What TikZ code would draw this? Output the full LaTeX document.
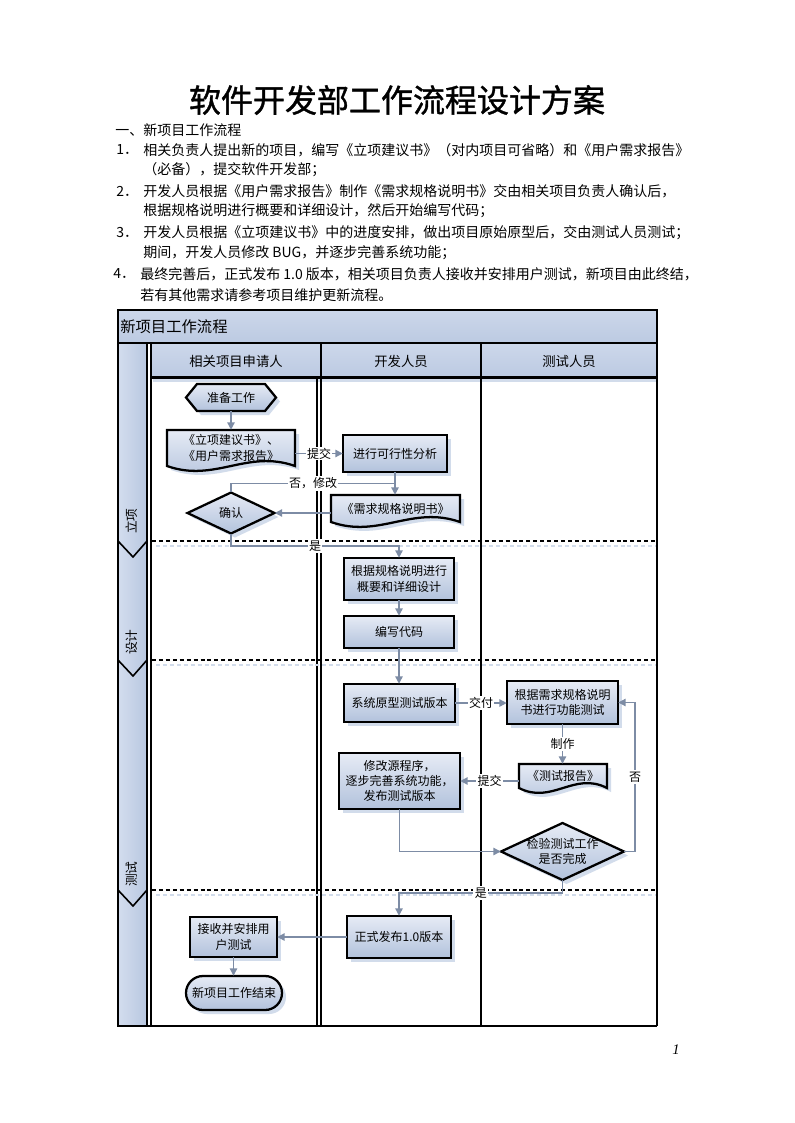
\documentclass[tikz,border=0pt]{standalone}
\usepackage{fontspec}
\setmainfont{Noto Sans CJK SC}
\newfontfamily\titlefont[FakeBold=1.2]{Noto Sans CJK SC}
\newfontfamily\pnfont{Liberation Serif}
\usetikzlibrary{arrows.meta,calc}

\definecolor{nodetop}{HTML}{E6EBF5}
\definecolor{nodebot}{HTML}{B2C2DC}
\definecolor{shadowc}{HTML}{D2DCEB}
\definecolor{connc}{HTML}{7D8CA5}
\definecolor{bandtop}{HTML}{CCD7EA}
\definecolor{bandbot}{HTML}{BCCAE2}
\definecolor{colL}{HTML}{D3DDEE}
\definecolor{colR}{HTML}{B8C7E0}

\tikzset{
 shapefill/.style={top color=nodetop, bottom color=nodebot, draw=black, line width=1.7pt, line join=miter},
 txt/.style={inner sep=0pt, align=center, font=\fontsize{9pt}{11.5pt}\selectfont},
 conn/.style={draw=connc, line width=1pt, -{Triangle[length=5.5pt,width=5.5pt]}},
 plainline/.style={draw=connc, line width=1pt},
 lbl/.style={fill=white, inner sep=1pt, font=\fontsize{9pt}{10pt}\selectfont, text=black},
 bodytext/.style={anchor=west, inner sep=0pt, font=\fontsize{10.5pt}{12pt}\selectfont},
 phasesep/.style={line width=1.6pt, dash pattern=on 3pt off 2.2pt},
 phaseshadow/.style={draw=shadowc, line width=1.2pt, dash pattern=on 3pt off 2.2pt},
 lanehead/.style={top color=bandtop, bottom color=bandbot},
}

\newcommand\corners[4]{\pgfmathsetmacro\xa{#1-#3/2}\pgfmathsetmacro\xb{#1+#3/2}\pgfmathsetmacro\ya{#2-#4/2}\pgfmathsetmacro\yb{#2+#4/2}\pgfmathsetmacro\wq{#3}}

\newcommand\procnode[6]{\corners{#2}{#3}{#4}{#5}%
 \fill[shadowc] (\xa+4,\ya+4) rectangle (\xb+4,\yb+4);
 \path[shapefill] (\xa,\ya) rectangle (\xb,\yb);
 \node[txt,minimum width=#4*0.75pt,minimum height=#5*0.75pt] (#1) at (#2,#3) {#6};}

\newcommand\docnode[6]{\corners{#2}{#3}{#4}{#5}%
 \fill[shadowc] (\xa+4,\ya+4) -- (\xb+4,\ya+4) -- (\xb+4,\yb+4) .. controls (\xa+0.625*\wq+4,\yb-17+4) and (\xa+0.375*\wq+4,\yb+17+4) .. (\xa+4,\yb+4) -- cycle;
 \path[shapefill] (\xa,\ya) -- (\xb,\ya) -- (\xb,\yb) .. controls (\xa+0.625*\wq,\yb-17) and (\xa+0.375*\wq,\yb+17) .. (\xa,\yb) -- cycle;
 \node[txt,minimum width=#4*0.75pt,minimum height=#5*0.75pt] (#1) at (#2,#3) {#6};}

\newcommand\decnode[6]{\corners{#2}{#3}{#4}{#5}%
 \fill[shadowc] (\xa+4,#3+4) -- (#2+4,\ya+4) -- (\xb+4,#3+4) -- (#2+4,\yb+4) -- cycle;
 \path[shapefill] (\xa,#3) -- (#2,\ya) -- (\xb,#3) -- (#2,\yb) -- cycle;
 \node[txt,minimum width=#4*0.75pt,minimum height=#5*0.75pt] (#1) at (#2,#3) {#6};}

\newcommand\prepnode[6]{\corners{#2}{#3}{#4}{#5}%
 \fill[shadowc] (\xa+4,#3+4) -- (\xa+15,\ya+4) -- (\xb-7,\ya+4) -- (\xb+4,#3+4) -- (\xb-7,\yb+4) -- (\xa+15,\yb+4) -- cycle;
 \path[shapefill] (\xa,#3) -- (\xa+11,\ya) -- (\xb-11,\ya) -- (\xb,#3) -- (\xb-11,\yb) -- (\xa+11,\yb) -- cycle;
 \node[txt,minimum width=#4*0.75pt,minimum height=#5*0.75pt] (#1) at (#2,#3) {#6};}

\newcommand\termnode[6]{\corners{#2}{#3}{#4}{#5}%
 \fill[shadowc, rounded corners=#5*0.375pt] (\xa+4,\ya+4) rectangle (\xb+4,\yb+4);
 \path[shapefill, rounded corners=#5*0.375pt] (\xa,\ya) rectangle (\xb,\yb);
 \node[txt,minimum width=#4*0.75pt,minimum height=#5*0.75pt] (#1) at (#2,#3) {#6};}

\begin{document}
\begin{tikzpicture}[x=0.75pt,y=-0.75pt]
\fill[white] (0,0) rectangle (794,1123);
\useasboundingbox (0,0) rectangle (794,1123);

% ---------- page text ----------
\node[inner sep=0pt, font=\titlefont\fontsize{24pt}{28pt}\selectfont] (title) at (397,100) {软件开发部工作流程设计方案};
\node[bodytext] (t0) at (115,130) {一、新项目工作流程};
\node[bodytext] (n1) at (116,150) {1．};
\node[bodytext] (t1a) at (143,150) {相关负责人提出新的项目，编写《立项建议书》（对内项目可省略）和《用户需求报告》};
\node[bodytext] (t1b) at (143,170) {（必备），提交软件开发部；};
\node[bodytext] (n2) at (116,191) {2．};
\node[bodytext] (t2a) at (143,191) {开发人员根据《用户需求报告》制作《需求规格说明书》交由相关项目负责人确认后，};
\node[bodytext] (t2b) at (143,211) {根据规格说明进行概要和详细设计，然后开始编写代码；};
\node[bodytext] (n3) at (116,233) {3．};
\node[bodytext] (t3a) at (143,233) {开发人员根据《立项建议书》中的进度安排，做出项目原始原型后，交由测试人员测试；};
\node[bodytext] (t3b) at (143,253) {期间，开发人员修改 BUG，并逐步完善系统功能；};
\node[bodytext] (n4) at (113,274) {4．};
\node[bodytext] (t4a) at (140,274) {最终完善后，正式发布 1.0 版本，相关项目负责人接收并安排用户测试，新项目由此终结，};
\node[bodytext] (t4b) at (140,295) {若有其他需求请参考项目维护更新流程。};
\node[inner sep=0pt, font=\pnfont\itshape\fontsize{11pt}{12pt}\selectfont] (pnum) at (676,1050) {1};

% ---------- swimlane frame ----------
\path[top color=bandtop, bottom color=bandbot, draw=black, line width=0.8pt] (118,310) rectangle (657,343);
\node[anchor=west, inner sep=0pt, font=\fontsize{11.5pt}{13pt}\selectfont] (band) at (120,327) {新项目工作流程};
\path[left color=colL, right color=colR, draw=black, line width=0.8pt] (118,343) rectangle (147,1026);
\path[lanehead] (151,344) rectangle (320,377);
\path[lanehead] (321,344) rectangle (481,377);
\path[lanehead] (481,344) rectangle (657,377);
\fill[shadowc] (153,379) rectangle (657,382);
\node[inner sep=0pt, font=\fontsize{10pt}{12pt}\selectfont] (h1) at (236,361) {相关项目申请人};
\node[inner sep=0pt, font=\fontsize{10pt}{12pt}\selectfont] (h2) at (401,361) {开发人员};
\node[inner sep=0pt, font=\fontsize{10pt}{12pt}\selectfont] (h3) at (569,361) {测试人员};

% lane lines
\draw[line width=2pt] (151,343) -- (151,1026);
\draw[line width=2pt] (321,343) -- (321,1026);
\draw[line width=1.5pt] (317,377) -- (317,1026);
\draw[line width=2.2pt] (481,343) -- (481,1026);
\draw[line width=2.2pt] (657,343) -- (657,1026);
\draw[line width=2.2pt] (151,377.5) -- (657,377.5);
\draw[line width=2pt] (118,1026) -- (657,1026);

% phase separators
\draw[phaseshadow] (156,546) -- (656,546);
\draw[phaseshadow] (156,665) -- (656,665);
\draw[phaseshadow] (156,895) -- (656,895);
\draw[phasesep] (152,541) -- (656,541);
\draw[phasesep] (152,660) -- (656,660);
\draw[phasesep] (152,890) -- (656,890);
\draw[line width=1.2pt] (118,541) -- (133,557) -- (147,541);
\draw[line width=1.2pt] (118,660) -- (133,676) -- (147,660);
\draw[line width=1.2pt] (118,890) -- (133,906) -- (147,890);
\node[rotate=90, inner sep=0pt, font=\fontsize{9.5pt}{11pt}\selectfont] (p1) at (132,521) {立项};
\node[rotate=90, inner sep=0pt, font=\fontsize{9.5pt}{11pt}\selectfont] (p2) at (132,642) {设计};
\node[rotate=90, inner sep=0pt, font=\fontsize{9.5pt}{11pt}\selectfont] (p3) at (132,874) {测试};

% ---------- nodes ----------
\prepnode{prep}{231}{397.5}{90}{27}{准备工作}
\docnode{doc1}{231}{448}{128}{36}{《立项建议书》、\\《用户需求报告》}
\procnode{feas}{395}{453.5}{104}{37}{进行可行性分析}
\docnode{doc2}{395.5}{508.5}{129}{27}{《需求规格说明书》}
\decnode{confirm}{231}{513}{87}{41}{确认}
\procnode{design}{399}{579}{110}{42}{根据规格说明进行\\概要和详细设计}
\procnode{code}{399}{632}{110}{32}{编写代码}
\procnode{proto}{399.5}{703}{111}{38}{系统原型测试版本}
\procnode{ftest}{562.5}{702.5}{111}{43}{根据需求规格说明\\书进行功能测试}
\docnode{doc3}{563}{776}{88}{24}{《测试报告》}
\procnode{modify}{399.5}{781}{121}{56}{修改源程序，\\逐步完善系统功能，\\发布测试版本}
\decnode{check}{562.5}{851.5}{123}{57}{检验测试工作\\是否完成}
\procnode{release}{399}{937}{104}{42}{正式发布1.0版本}
\procnode{accept}{233.5}{937}{87}{40}{接收并安排用\\户测试}
\termnode{endn}{234}{993}{96}{34}{新项目工作结束}

% ---------- connectors ----------
\coordinate (ya) at ($(feas.south)!0.5!(doc2.north)$);
\coordinate (yb) at (0,546);
\coordinate (yc) at (0,893);
\coordinate (xr) at (635,0);
\draw[conn] (prep.south) -- (prep.south |- doc1.north);
\draw[conn] (doc1.east |- feas.west) -- node[lbl]{提交} (feas.west);
\draw[conn] (feas.south) -- (feas.south |- doc2.north);
\draw[conn] (doc2.west |- confirm.east) -- (confirm.east);
\draw[plainline] (confirm.north) |- node[lbl,pos=0.75]{否，修改} (ya);
\draw[conn] (confirm.south) |- node[lbl,pos=0.75]{是} (design.north |- yb) -- (design.north);
\draw[conn] (design.south) -- (design.south |- code.north);
\draw[conn] (code.south) -- (code.south |- proto.north);
\draw[conn] (proto.east) -- node[lbl]{交付} (proto.east -| ftest.west);
\draw[conn] (ftest.south) -- node[lbl]{制作} (ftest.south |- doc3.north);
\draw[conn] (doc3.west |- modify.east) -- node[lbl]{提交} (modify.east);
\draw[conn] (modify.south) |- (check.west);
\draw[conn] (check.east) -- (check.east -| xr) |- node[lbl,pos=0.25]{否} (ftest.east);
\draw[conn] (check.south) |- node[lbl,pos=0.75]{是} (release.north |- yc) -- (release.north);
\draw[conn] (release.west) -- (release.west -| accept.east);
\draw[conn] (accept.south) -- (accept.south |- endn.north);
\end{tikzpicture}
\end{document}
